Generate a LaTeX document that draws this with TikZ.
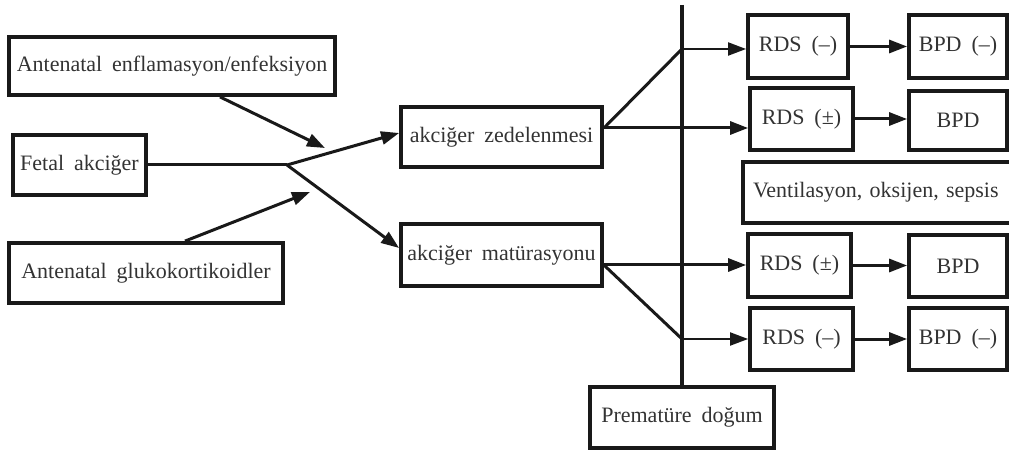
\documentclass[tikz,border=0pt]{standalone}
\usepackage{fontspec}
\setmainfont{Liberation Serif}
\usetikzlibrary{arrows.meta}
\newcommand\boxfontsel{\fontsize{22}{26}\selectfont\spaceskip=0.45em plus 0.1em\relax}
\begin{document}
\begin{tikzpicture}[x=1pt,y=-1pt,
  box/.style={draw=black!90, line width=3.8pt, inner sep=0pt, anchor=center,
    font=\boxfontsel, text=black!80},
  conn/.style={draw=black!90, line width=3pt, -{Triangle[length=18pt,width=13pt]}},
  thinconn/.style={draw=black!90, line width=2pt, -{Triangle[length=18pt,width=13pt]}},
  plain/.style={draw=black!90, line width=3pt},
  axis/.style={draw=black!90, line width=3.8pt}]
\useasboundingbox (0,0) rectangle (1009,454);
% left column
\node[box, minimum width=326pt, minimum height=58pt] (enf) at (172,66) {Antenatal enflamasyon/enfeksiyon};
\node[box, minimum width=133pt, minimum height=60pt] (fetal) at (79.5,165) {Fetal akciğer};
\node[box, minimum width=274pt, minimum height=60pt] (gluko) at (146,273) {Antenatal glukokortikoidler};
% middle
\node[box, minimum width=201pt, minimum height=60pt] (zed) at (501.5,137) {akciğer zedelenmesi};
\node[box, minimum width=201pt, minimum height=62pt] (mat) at (501.5,255) {akciğer matürasyonu};
% right
\node[box, minimum width=100pt, minimum height=63pt] (rds1) at (798,46.5) {RDS (–)};
\node[box, minimum width=98pt, minimum height=63pt] (bpd1) at (958,46.5) {BPD (–)};
\node[box, minimum width=103pt, minimum height=62pt] (rds2) at (801.5,119) {RDS (±)};
\node[box, minimum width=98pt, minimum height=59pt] (bpd2) at (958,120.5) {BPD};
\node[box, minimum width=280pt, minimum height=61pt, text width=272pt, align=left] (vent) at (883,192.5) {\hspace*{6pt}Ventilasyon, oksijen, sepsis};
\node[box, minimum width=103pt, minimum height=63pt] (rds3) at (799.5,265.5) {RDS (±)};
\node[box, minimum width=98pt, minimum height=62pt] (bpd3) at (958,266) {BPD};
\node[box, minimum width=103pt, minimum height=62pt] (rds4) at (801.5,339) {RDS (–)};
\node[box, minimum width=98pt, minimum height=62pt] (bpd4) at (958,339) {BPD (–)};
\node[box, minimum width=184pt, minimum height=61pt] (prem) at (682,417.5) {Prematüre doğum};
% coordinates
\coordinate (j) at (287,165);
\coordinate (ea) at (325,148);
\coordinate (ga) at (310,192);
\coordinate (vt) at (682,5);
\coordinate (v1) at (682,49);
\coordinate (v4) at (682,339);
\coordinate (zs) at ([yshift=9pt]zed.east);
\coordinate (ms) at ([yshift=-10pt]mat.east);
% left connectors
\draw[plain] (fetal.east) -- (j);
\draw[conn] (j) -- ([yshift=4pt]zed.west);
\draw[conn] (j) -- ([yshift=7pt]mat.west);
\draw[conn] ([xshift=48pt]enf.south) -- (ea);
\draw[conn] ([xshift=39pt]gluko.north) -- (ga);
% vertical axis
\draw[axis] (vt) -- (prem.north);
% middle to right
\draw[plain] (zs) -- (v1);
\draw[thinconn] (v1) -- (rds1.west |- v1);
\draw[conn] (zs) -- (rds2.west |- zs);
\draw[conn] (ms) -- (rds3.west |- ms);
\draw[plain] (ms) -- (v4);
\draw[thinconn] (v4) -- (rds4.west |- v4);
% RDS to BPD
\draw[conn] (rds1.east) -- (bpd1.west |- rds1.east);
\draw[conn] (rds2.east) -- (bpd2.west |- rds2.east);
\draw[conn] (rds3.east) -- (bpd3.west |- rds3.east);
\draw[conn] (rds4.east) -- (bpd4.west |- rds4.east);
\end{tikzpicture}
\end{document}
